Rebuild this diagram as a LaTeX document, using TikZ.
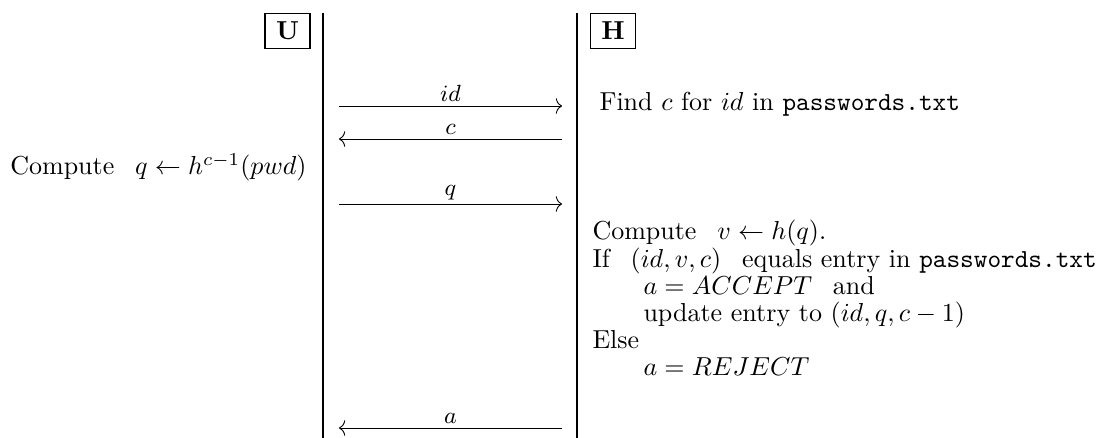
\documentclass[tikz,border=0pt]{standalone}
\usepackage{amsmath}
\usetikzlibrary{arrows.meta}
\begin{document}
\begin{tikzpicture}[x=0.3846pt,y=-0.3846pt,
  party/.style={draw, line width=0.4pt, inner sep=0pt, minimum width=17.3pt, minimum height=13.8pt, font=\bfseries},
  lifeline/.style={line width=0.4pt},
  msg/.style={line width=0.35pt, -{To[length=2.4pt,width=6pt]}},
  msgl/.style={above, inner sep=1.5pt, font=\small},
  txt/.style={inner sep=0pt, anchor=base west}]
\useasboundingbox (0,0) rectangle (1102,438);
% lifelines
\coordinate (ut) at (323,13); \coordinate (ub) at (323,438);
\coordinate (ht) at (577,13); \coordinate (hb) at (577,438);
\draw[lifeline] (ut) -- (ub);
\draw[lifeline] (ht) -- (hb);
% parties
\node[party] (U) at (287.5,31) {U};
\node[party] (H) at (613,31) {H};
% message end points
\coordinate (m1a) at (339,106); \coordinate (m1b) at (562,106);
\coordinate (m2a) at (339,139); \coordinate (m2b) at (562,139);
\coordinate (m3a) at (339,204); \coordinate (m3b) at (562,204);
\coordinate (m4a) at (339,428); \coordinate (m4b) at (562,428);
\draw[msg] (m1a) -- node[msgl] (l1) {$id$} (m1b);
\draw[msg] (m2b) -- node[msgl] (l2) {$c$} (m2a);
\draw[msg] (m3a) -- node[msgl] (l3) {$q$} (m3b);
\draw[msg] (m4b) -- node[msgl] (l4) {$a$} (m4a);
% texts
\node[txt, anchor=base east] (uc) at (307,175) {Compute\hspace{8pt}$q \leftarrow h^{c-1}(pwd)$};
\node[txt] (hf) at (599,111) {Find $c$ for $id$ in \texttt{passwords.txt}};
\node[txt] (h1) at (592,240) {Compute\hspace{8pt}$v \leftarrow h(q)$.};
\node[txt] (h2) at (592,267.2) {If\hspace{8pt}$(id, v, c)$\hspace{8pt}equals entry in \texttt{passwords.txt}};
\node[txt] (h3) at (643,294.4) {$a = ACCEPT$\hspace{8pt}and};
\node[txt] (h4) at (643,321.6) {update entry to $(id, q, c-1)$};
\node[txt] (h5) at (592,348.8) {Else};
\node[txt] (h6) at (643,376) {$a = REJECT$};
\end{tikzpicture}
\end{document}
